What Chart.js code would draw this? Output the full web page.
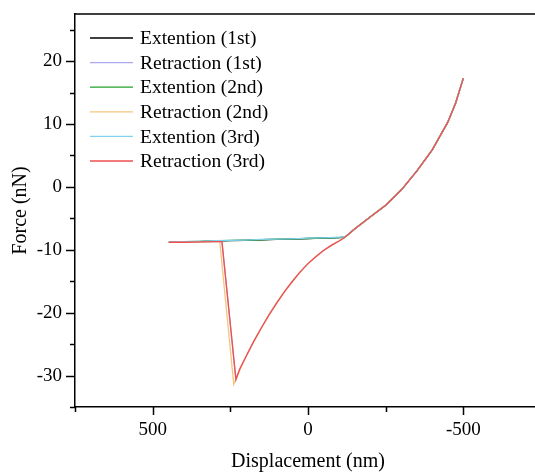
<!DOCTYPE html>
<html>
<head>
<meta charset="utf-8">
<script src="https://cdn.jsdelivr.net/npm/chart.js@4"></script>
<style>
  html, body { margin: 0; padding: 0; background: #fff; overflow: hidden; }
  #wrap { position: relative; width: 541px; height: 474px; }
</style>
</head>
<body>
<div id="wrap"><canvas id="myChart"></canvas></div>
<script>
// Series data (displacement in nm, force in nN)
const ext1X = [448, 400, 350, 300, 250, 200, 150, 100, 50, 0, -50, -100, -119, -150, -200, -250, -300, -350, -400, -450, -475, -500];
const ext1Y = [-8.8, -8.75, -8.7, -8.6, -8.55, -8.5, -8.4, -8.35, -8.3, -8.2, -8.15, -8.05, -8.0, -6.7, -4.8, -2.9, -0.5, 2.5, 5.9, 10.3, 13.3, 17.3];

const ret1X = [-500, -475, -450, -400, -350, -300, -250, -200, -150, -119, -100, -75, -50, -25, 0, 25, 50, 75, 100, 125, 150, 175, 200, 220, 232, 277, 300, 350, 400, 448];
const ret1Y = [17.3, 13.3, 10.3, 5.9, 2.5, -0.5, -2.9, -4.8, -6.7, -8.0, -8.6, -9.3, -10.1, -11.1, -12.2, -13.5, -15.0, -16.6, -18.4, -20.3, -22.4, -24.6, -27.0, -29.0, -30.7, -8.7, -8.7, -8.75, -8.8, -8.8];

const ext2X = [448, 400, 350, 300, 250, 200, 150, 100, 50, 0, -50, -100, -119, -150, -200, -250, -300, -350, -400, -450, -475, -500];
const ext2Y = [-8.8, -8.7, -8.65, -8.6, -8.5, -8.45, -8.4, -8.3, -8.25, -8.2, -8.1, -8.05, -8.0, -6.7, -4.8, -2.9, -0.5, 2.5, 5.9, 10.3, 13.3, 17.3];

const ret2X = [-500, -475, -450, -400, -350, -300, -250, -200, -150, -119, -100, -75, -50, -25, 0, 25, 50, 75, 100, 125, 150, 175, 200, 220, 239, 284, 300, 350, 400, 448];
const ret2Y = [17.3, 13.3, 10.3, 5.9, 2.5, -0.5, -2.9, -4.8, -6.7, -8.0, -8.6, -9.3, -10.1, -11.1, -12.2, -13.5, -15.0, -16.6, -18.4, -20.3, -22.4, -24.6, -27.0, -29.2, -31.4, -8.7, -8.7, -8.75, -8.8, -8.8];

const ext3X = [448, 400, 350, 300, 250, 200, 150, 100, 50, 0, -50, -100, -119, -150, -200, -250, -300, -350, -400, -450, -475, -500];
const ext3Y = [-8.75, -8.7, -8.65, -8.55, -8.5, -8.45, -8.35, -8.3, -8.25, -8.15, -8.1, -8.0, -7.95, -6.7, -4.8, -2.9, -0.5, 2.5, 5.9, 10.3, 13.3, 17.3];

const ret3X = [-500, -475, -450, -400, -350, -300, -250, -200, -150, -119, -100, -75, -50, -25, 0, 25, 50, 75, 100, 125, 150, 175, 200, 220, 232, 277, 300, 350, 400, 448];
const ret3Y = [17.3, 13.3, 10.3, 5.9, 2.5, -0.5, -2.9, -4.8, -6.7, -8.0, -8.6, -9.3, -10.1, -11.1, -12.2, -13.5, -15.0, -16.6, -18.4, -20.3, -22.4, -24.6, -27.0, -29.0, -30.6, -8.7, -8.7, -8.75, -8.8, -8.8];

const seriesNames = ["Extention (1st)", "Retraction (1st)", "Extention (2nd)", "Retraction (2nd)", "Extention (3rd)", "Retraction (3rd)"];
const seriesColors = ["#000000", "#aaaaee", "#23a02d", "#f7c47e", "#82d2ee", "#ee5050"];

// Tick values
const xMajor = [500, 0, -500];
const xMinor = [750, 250, -250, -750];
const yMajor = [20, 10, 0, -10, -20, -30];
const yMinor = [25, 15, 5, -5, -15, -25, -35];

const FONT = "'Liberation Serif', 'Times New Roman', serif";

function toPoints(xs, ys) {
  return xs.map((x, i) => ({ x: x, y: ys[i] }));
}

const allX = [ext1X, ret1X, ext2X, ret2X, ext3X, ret3X];
const allY = [ext1Y, ret1Y, ext2Y, ret2Y, ext3Y, ret3Y];

const datasets = seriesNames.map((name, i) => ({
  label: name,
  data: toPoints(allX[i], allY[i]),
  borderColor: seriesColors[i],
  backgroundColor: seriesColors[i],
  borderWidth: 1.3,
  pointRadius: 0,
  showLine: true,
  tension: 0,
  order: seriesNames.length - i // later series drawn on top
}));

// Draws tick marks, top frame line and the inset legend
const framePlugin = {
  id: 'frame',
  afterDraw(chart) {
    const c = chart.ctx;
    const area = chart.chartArea;
    const xs = chart.scales.x;
    const ys = chart.scales.y;
    c.save();
    c.strokeStyle = '#000';
    c.lineWidth = 1.5;
    c.beginPath();
    c.moveTo(area.left, area.top);
    c.lineTo(area.right, area.top);
    xMajor.forEach(v => {
      const p = Math.round(xs.getPixelForValue(v)) + 0.5;
      c.moveTo(p, area.bottom); c.lineTo(p, area.bottom + 8);
    });
    xMinor.forEach(v => {
      const p = Math.round(xs.getPixelForValue(v)) + 0.5;
      c.moveTo(p, area.bottom); c.lineTo(p, area.bottom + 5);
    });
    yMajor.forEach(v => {
      const p = Math.round(ys.getPixelForValue(v)) + 0.5;
      c.moveTo(area.left, p); c.lineTo(area.left - 9, p);
    });
    yMinor.forEach(v => {
      const p = Math.round(ys.getPixelForValue(v)) + 0.5;
      c.moveTo(area.left, p); c.lineTo(area.left - 5, p);
    });
    c.stroke();

    // legend
    c.font = '19.5px ' + FONT;
    c.textBaseline = 'middle';
    c.textAlign = 'left';
    chart.data.datasets.forEach((ds, i) => {
      const y = 38 + i * 24.6;
      c.strokeStyle = ds.borderColor;
      c.lineWidth = 1.3;
      c.beginPath();
      c.moveTo(90, y);
      c.lineTo(133, y);
      c.stroke();
      c.fillStyle = '#000';
      c.fillText(ds.label, 140, y + 1);
    });
    c.restore();
  }
};

const ctx = document.getElementById('myChart');

new Chart(ctx, {
  type: 'scatter',
  data: { datasets: datasets },
  options: {
    responsive: true,
    maintainAspectRatio: false,
    animation: false,
    layout: { padding: { top: 14, left: 0, right: 0, bottom: 0 } },
    plugins: {
      legend: { display: false },
      tooltip: { enabled: false }
    },
    scales: {
      x: {
        type: 'linear',
        position: 'bottom',
        reverse: true,
        min: -750,
        max: 750,
        afterBuildTicks: s => { s.ticks = xMajor.map(v => ({ value: v })); },
        afterFit: s => { s.height = 67; s.paddingLeft = 0; s.paddingRight = 0; },
        grid: { display: false, drawTicks: false },
        border: { display: true, color: '#000', width: 1.5 },
        ticks: {
          color: '#000',
          font: { family: FONT, size: 19 },
          padding: 12,
          maxRotation: 0,
          callback: v => String(v)
        },
        title: {
          display: true,
          text: 'Displacement (nm)',
          color: '#000',
          font: { family: FONT, size: 20, lineHeight: 1.2 },
          padding: { top: 0, bottom: 0 }
        }
      },
      y: {
        type: 'linear',
        position: 'left',
        min: -35,
        max: 27.5,
        afterBuildTicks: s => { s.ticks = yMajor.map(v => ({ value: v })); },
        afterFit: s => { s.width = 75; s.paddingTop = 0; s.paddingBottom = 0; },
        grid: { display: false, drawTicks: false },
        border: { display: true, color: '#000', width: 1.5 },
        ticks: {
          color: '#000',
          font: { family: FONT, size: 19 },
          padding: 13,
          callback: v => String(v)
        },
        title: {
          display: true,
          text: 'Force (nN)',
          color: '#000',
          font: { family: FONT, size: 20, lineHeight: 1.2 },
          padding: { top: 9, bottom: 0 }
        }
      }
    }
  },
  plugins: [framePlugin]
});
</script>
</body>
</html>
